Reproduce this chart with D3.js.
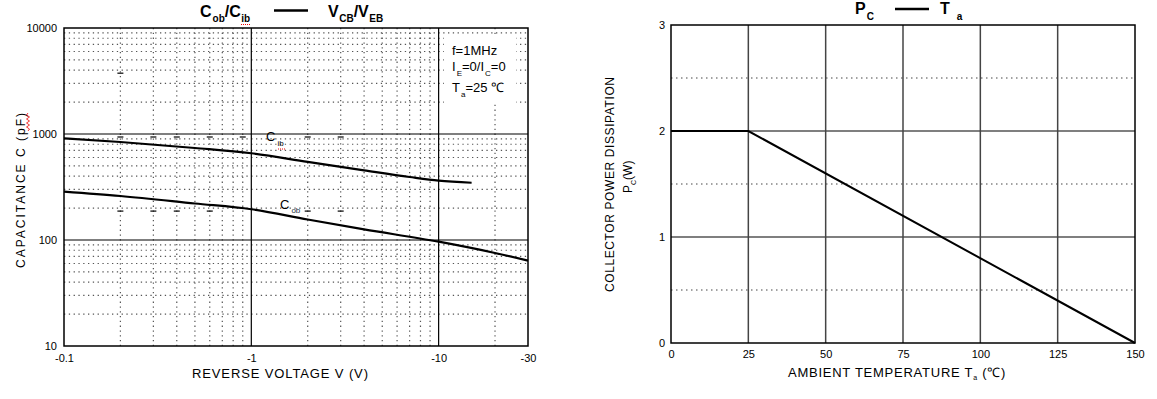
<!DOCTYPE html>
<html>
<head>
<meta charset="utf-8">
<script src="https://cdn.jsdelivr.net/npm/d3@7"></script>
<style>
  body { margin: 0; background: #fff; }
  svg { display: block; font-family: "Liberation Sans", Arial, sans-serif; }
  .tick text { font-size: 11px; fill: #000; }
</style>
</head>
<body>
<svg id="chart" width="1157" height="399"></svg>
<script>
// ---- left chart data: capacitance vs reverse voltage (log-log) ----
var cibV = [0.1, 0.2, 0.5, 1, 2, 4, 7, 10, 15];
var cibC = [910, 840, 738, 658, 546, 454, 393, 363, 347];
var cobV = [0.1, 0.2, 0.5, 1, 2, 4, 10, 20, 30];
var cobC = [286, 260, 221, 195, 156, 126, 96.4, 75.4, 63.8];
var capXTicks = [0.1, 1, 10, 30];
var capXLabels = ["-0.1", "-1", "-10", "-30"];
var capYTicks = [10, 100, 1000, 10000];
// little stray dashes on the original scan
var dash1000 = [0.2, 0.3, 0.4, 0.6, 0.9, 2, 3];
var dash200 = [0.2, 0.3, 0.4, 0.6, 2, 3];
var dash4000 = [0.2];

// ---- right chart data: power derating ----
var ta = [0, 25, 150];
var pc = [2, 2, 0];
var taTicks = [0, 25, 50, 75, 100, 125, 150];
var pcTicks = [0, 1, 2, 3];
var pcMinor = [0.5, 1.5, 2.5];

var svg = d3.select("#chart");

// ================= LEFT =================
var L = {left: 64, right: 528, top: 28, bottom: 346};
var xL = d3.scaleLog().domain([0.1, 30]).range([L.left, L.right]);
var yL = d3.scaleLog().domain([10, 10000]).range([L.bottom, L.top]);

var gL = svg.append("g");

// minor grid
var minorX = [], minorY = [];
[0.1, 1, 10].forEach(function(d) {
    for (var m = 2; m <= 9; m++) { if (d * m < 30) minorX.push(d * m); }
});
[10, 100, 1000].forEach(function(d) {
    for (var m = 2; m <= 9; m++) minorY.push(d * m);
});
gL.selectAll(".mx").data(minorX).enter().append("line")
    .attr("x1", function(d) { return xL(d); }).attr("x2", function(d) { return xL(d); })
    .attr("y1", L.top).attr("y2", L.bottom)
    .attr("stroke", "#555").attr("stroke-width", 1.2).attr("stroke-dasharray", "1.3,3.5");
gL.selectAll(".my").data(minorY).enter().append("line")
    .attr("y1", function(d) { return yL(d); }).attr("y2", function(d) { return yL(d); })
    .attr("x1", L.left).attr("x2", L.right)
    .attr("stroke", "#555").attr("stroke-width", 1.2).attr("stroke-dasharray", "1.3,3.5");

// major grid
gL.selectAll(".Mx").data([1, 10]).enter().append("line")
    .attr("x1", function(d) { return xL(d); }).attr("x2", function(d) { return xL(d); })
    .attr("y1", L.top).attr("y2", L.bottom)
    .attr("stroke", "#000").attr("stroke-width", 1.2);
gL.selectAll(".My").data([100, 1000]).enter().append("line")
    .attr("y1", function(d) { return yL(d); }).attr("y2", function(d) { return yL(d); })
    .attr("x1", L.left).attr("x2", L.right)
    .attr("stroke", "#000").attr("stroke-width", 1.2);

// stray dashes
function dashes(vals, level) {
    gL.selectAll(null).data(vals).enter().append("line")
        .attr("x1", function(d) { return xL(d) - 3; }).attr("x2", function(d) { return xL(d) + 3; })
        .attr("y1", yL(level) + 3).attr("y2", yL(level) + 3)
        .attr("stroke", "#000").attr("stroke-width", 1.2);
}
dashes(dash1000, 1000);
dashes(dash200, 200);
dashes(dash4000, 4000);

// condition box
gL.append("rect").attr("x", 444).attr("y", 37).attr("width", 72).attr("height", 66).attr("fill", "#fff");
var cond = gL.append("g").attr("font-size", 13);
cond.append("text").attr("x", 452).attr("y", 55).text("f=1MHz");
var t2 = cond.append("text").attr("x", 452).attr("y", 71);
t2.append("tspan").text("I");
t2.append("tspan").attr("font-size", 8).attr("dy", 5).attr("dx", 1).text("E");
t2.append("tspan").attr("dy", -5).text("=0/I");
t2.append("tspan").attr("font-size", 8).attr("dy", 5).attr("dx", 1).text("C");
t2.append("tspan").attr("dy", -5).text("=0");
var t3 = cond.append("text").attr("x", 452).attr("y", 92);
t3.append("tspan").text("T");
t3.append("tspan").attr("font-size", 8).attr("dy", 5).attr("dx", 1).text("a");
t3.append("tspan").attr("dy", -5).text("=25  \u2103");

// curves
var lineL = d3.line()
    .x(function(d) { return xL(d[0]); })
    .y(function(d) { return yL(d[1]); })
    .curve(d3.curveMonotoneX);
gL.append("path").datum(d3.zip(cibV, cibC)).attr("d", lineL)
    .attr("fill", "none").attr("stroke", "#000").attr("stroke-width", 2.2);
gL.append("path").datum(d3.zip(cobV, cobC)).attr("d", lineL)
    .attr("fill", "none").attr("stroke", "#000").attr("stroke-width", 2.2);

// curve labels
var lb1 = gL.append("text").attr("x", 266).attr("y", 141).attr("font-size", 13);
lb1.append("tspan").text("C");
lb1.append("tspan").attr("font-size", 8).attr("dy", 5).attr("dx", 2).text("ib");
gL.append("line").attr("x1", 278).attr("x2", 286).attr("y1", 149).attr("y2", 149)
    .attr("stroke", "#e00").attr("stroke-width", 1).attr("stroke-dasharray", "1,1");
var lb2 = gL.append("text").attr("x", 280).attr("y", 209).attr("font-size", 13);
lb2.append("tspan").text("C");
lb2.append("tspan").attr("font-size", 8).attr("dy", 4).attr("dx", 2).attr("fill", "#234").text("ob");

// frame
gL.append("rect").attr("x", L.left).attr("y", L.top)
    .attr("width", L.right - L.left).attr("height", L.bottom - L.top)
    .attr("fill", "none").attr("stroke", "#000").attr("stroke-width", 1.5);

// axes
gL.append("g").attr("transform", "translate(" + L.left + ",0)")
    .call(d3.axisLeft(yL).tickValues(capYTicks).tickFormat(d3.format("d")).tickSize(0).tickPadding(7))
    .call(function(g) { g.select(".domain").remove(); });
gL.append("g").attr("transform", "translate(0," + L.bottom + ")")
    .call(d3.axisBottom(xL).tickValues(capXTicks).tickFormat(function(d, i) { return capXLabels[i]; }).tickSize(0).tickPadding(8))
    .call(function(g) { g.select(".domain").remove(); });

gL.append("text").attr("x", 192).attr("y", 378).attr("font-size", 13)
    .attr("textLength", 176).attr("lengthAdjust", "spacing").text("REVERSE VOLTAGE  V (V)");
gL.append("text").attr("transform", "translate(25,268) rotate(-90)").attr("font-size", 12)
    .attr("textLength", 155).attr("lengthAdjust", "spacing").text("CAPACITANCE    C    (pF)");
gL.append("path").attr("d", "M28,113 l-1.5,2 l3,2 l-3,2 l3,2 l-3,2 l3,2 l-3,2 l3,2 l-1.5,2")
    .attr("fill", "none").attr("stroke", "#e00").attr("stroke-width", 0.8);

// title
var tl = gL.append("text").attr("x", 200).attr("y", 17).attr("font-weight", "bold").attr("font-size", 16);
tl.append("tspan").text("C");
tl.append("tspan").attr("font-size", 10).attr("dy", 5).attr("dx", 1).text("ob");
tl.append("tspan").attr("dy", -5).text("/C");
tl.append("tspan").attr("font-size", 10).attr("dy", 5).attr("dx", 0.5).text("ib");
gL.append("line").attr("x1", 241).attr("x2", 250).attr("y1", 24.5).attr("y2", 24.5)
    .attr("stroke", "#e00").attr("stroke-width", 1).attr("stroke-dasharray", "1,1");
gL.append("line").attr("x1", 274).attr("x2", 308).attr("y1", 10.5).attr("y2", 10.5)
    .attr("stroke", "#000").attr("stroke-width", 2.4);
var tv = gL.append("text").attr("x", 328).attr("y", 17).attr("font-weight", "bold").attr("font-size", 16);
tv.append("tspan").text("V");
tv.append("tspan").attr("font-size", 10).attr("dy", 5).attr("dx", 0.5).text("CB");
tv.append("tspan").attr("dy", -5).text("/V");
tv.append("tspan").attr("font-size", 10).attr("dy", 5).attr("dx", 0.5).text("EB");

// ================= RIGHT =================
var R = {left: 671, right: 1135, top: 25, bottom: 343};
var xR = d3.scaleLinear().domain([0, 150]).range([R.left, R.right]);
var yR = d3.scaleLinear().domain([0, 3]).range([R.bottom, R.top]);
var gR = svg.append("g");

gR.selectAll(".rmy").data(pcMinor).enter().append("line")
    .attr("y1", function(d) { return yR(d); }).attr("y2", function(d) { return yR(d); })
    .attr("x1", R.left).attr("x2", R.right)
    .attr("stroke", "#444").attr("stroke-width", 1).attr("stroke-dasharray", "1.5,3.5");
gR.selectAll(".rMy").data([1, 2]).enter().append("line")
    .attr("y1", function(d) { return yR(d); }).attr("y2", function(d) { return yR(d); })
    .attr("x1", R.left).attr("x2", R.right)
    .attr("stroke", "#000").attr("stroke-width", 1.2);
gR.selectAll(".rMx").data(taTicks.slice(1, -1)).enter().append("line")
    .attr("x1", function(d) { return xR(d); }).attr("x2", function(d) { return xR(d); })
    .attr("y1", R.top).attr("y2", R.bottom)
    .attr("stroke", "#444").attr("stroke-width", 1.5);

gR.append("path").datum(d3.zip(ta, pc))
    .attr("d", d3.line().x(function(d) { return xR(d[0]); }).y(function(d) { return yR(d[1]); }))
    .attr("fill", "none").attr("stroke", "#000").attr("stroke-width", 2);

gR.append("rect").attr("x", R.left).attr("y", R.top)
    .attr("width", R.right - R.left).attr("height", R.bottom - R.top)
    .attr("fill", "none").attr("stroke", "#000").attr("stroke-width", 1.5);

gR.append("g").attr("transform", "translate(" + R.left + ",0)")
    .call(d3.axisLeft(yR).tickValues(pcTicks).tickFormat(d3.format("d")).tickSize(0).tickPadding(6))
    .call(function(g) { g.select(".domain").remove(); });
gR.append("g").attr("transform", "translate(0," + R.bottom + ")")
    .call(d3.axisBottom(xR).tickValues(taTicks).tickFormat(d3.format("d")).tickSize(0).tickPadding(7))
    .call(function(g) { g.select(".domain").remove(); });

var xt = gR.append("text").attr("x", 788).attr("y", 377).attr("font-size", 13).attr("letter-spacing", 0.75);
xt.append("tspan").text("AMBIENT TEMPERATURE T");
xt.append("tspan").attr("font-size", 7).attr("dy", 3).text("a");
xt.append("tspan").attr("dy", -3).text(" (\u2103)");

gR.append("text").attr("transform", "translate(614,292) rotate(-90)").attr("font-size", 12)
    .attr("textLength", 215).attr("lengthAdjust", "spacing").text("COLLECTOR POWER DISSIPATION");
var py = gR.append("text").attr("transform", "translate(632,193) rotate(-90)").attr("font-size", 12);
py.append("tspan").text("P");
py.append("tspan").attr("font-size", 7).attr("dy", 4).text("C");
py.append("tspan").attr("dy", -4).text("(W)");

var tp = gR.append("text").attr("x", 855).attr("y", 14).attr("font-weight", "bold").attr("font-size", 16);
tp.append("tspan").text("P");
tp.append("tspan").attr("font-size", 10).attr("dy", 6).attr("dx", 1).text("C");
gR.append("line").attr("x1", 895).attr("x2", 929).attr("y1", 9).attr("y2", 9)
    .attr("stroke", "#000").attr("stroke-width", 2.4);
var tt = gR.append("text").attr("x", 940).attr("y", 14).attr("font-weight", "bold").attr("font-size", 16);
tt.append("tspan").text("T");
tt.append("tspan").attr("font-size", 10).attr("dy", 6).attr("dx", 7).text("a");
</script>
</body>
</html>
